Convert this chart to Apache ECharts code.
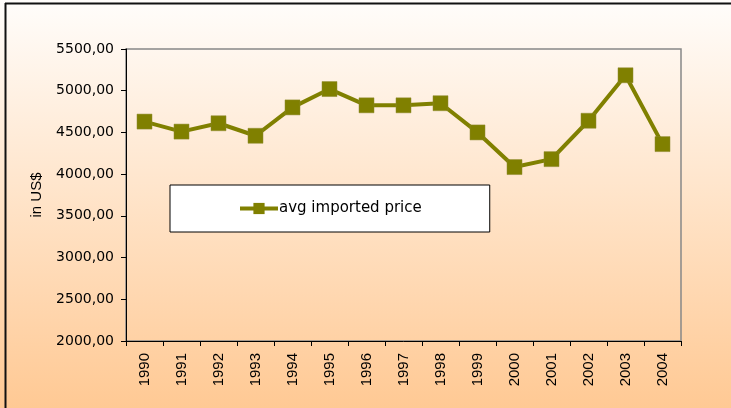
<!DOCTYPE html>
<html>
<head>
<meta charset="utf-8">
<script src="https://cdn.jsdelivr.net/npm/echarts@6/dist/echarts.min.js"></script>
<style>
  html, body { margin: 0; padding: 0; background: #fff; }
  #chart { width: 731px; height: 408px; }
</style>
</head>
<body>
<div id="chart"></div>
<script>
// data
const years = ['1990', '1991', '1992', '1993', '1994', '1995', '1996', '1997',
  '1998', '1999', '2000', '2001', '2002', '2003', '2004']
const avgImportedPrice = [4630, 4510, 4610, 4460, 4800, 5020, 4825, 4825,
  4850, 4500, 4085, 4180, 4640, 5185, 4360]
const seriesName = 'avg imported price'
const yAxisName = 'in US$'

const olive = '#808000'

const myChart = echarts.init(document.getElementById('chart'))

const option = {
  animation: false,
  backgroundColor: {
    type: 'linear', x: 0, y: 0, x2: 0, y2: 1,
    colorStops: [
      { offset: 0, color: '#fffdfb' },
      { offset: 1, color: '#ffc994' },
    ],
  },
  graphic: [
    // black frame on top and left only
    { type: 'line', shape: { x1: 5, y1: 3.5, x2: 760, y2: 3.5 }, style: { stroke: '#111', lineWidth: 2 } },
    { type: 'line', shape: { x1: 5.5, y1: 3, x2: 5.5, y2: 420 }, style: { stroke: '#111', lineWidth: 2 } },
  ],
  grid: {
    left: 126,
    right: 50,
    top: 49,
    bottom: 67,
    show: true,
    borderColor: '#888',
    borderWidth: 1.5,
    backgroundColor: 'transparent',
  },
  legend: {
    data: [seriesName],
    left: 170,
    top: 185,
    padding: [16, 68, 16, 68],
    backgroundColor: '#fff',
    borderColor: '#000',
    borderWidth: 1,
    borderRadius: 0,
    itemWidth: 38,
    itemHeight: 14,
    itemGap: 0,
    lineStyle: { width: 4, color: olive },
    itemStyle: { color: olive, borderWidth: 0 },
    textStyle: {
      fontFamily: 'DejaVu Sans',
      fontSize: 15,
      color: '#000',
      padding: [0, 0, 0, -4],
    },
  },
  xAxis: {
    type: 'category',
    data: years,
    boundaryGap: true,
    axisLine: { lineStyle: { color: '#000', width: 1 } },
    axisTick: { show: true, length: 5, alignWithLabel: false, lineStyle: { color: '#000' } },
    axisLabel: {
      interval: 0,
      rotate: 90,
      margin: 12,
      fontFamily: 'Liberation Sans',
      fontSize: 15,
      color: '#000',
    },
    splitLine: { show: false },
  },
  yAxis: {
    type: 'value',
    min: 2000,
    max: 5500,
    interval: 500,
    name: yAxisName,
    nameLocation: 'middle',
    nameGap: 82,
    nameRotate: 90,
    nameTextStyle: {
      fontFamily: 'Liberation Sans',
      fontSize: 15,
      color: '#000',
    },
    axisLine: { show: true, lineStyle: { color: '#000', width: 1 } },
    axisTick: { show: true, length: 5, lineStyle: { color: '#000' } },
    axisLabel: {
      margin: 12,
      fontFamily: 'DejaVu Sans',
      fontSize: 14,
      color: '#000',
      formatter: (v) => v.toFixed(2).replace('.', ','),
    },
    splitLine: { show: false },
  },
  series: [
    {
      name: seriesName,
      type: 'line',
      data: avgImportedPrice,
      symbol: 'rect',
      symbolSize: 15,
      lineStyle: { color: olive, width: 4 },
      itemStyle: { color: olive, borderColor: '#8f8a30', borderWidth: 0.5 },
      emphasis: { disabled: true },
    },
  ],
}

myChart.setOption(option)
</script>
</body>
</html>
